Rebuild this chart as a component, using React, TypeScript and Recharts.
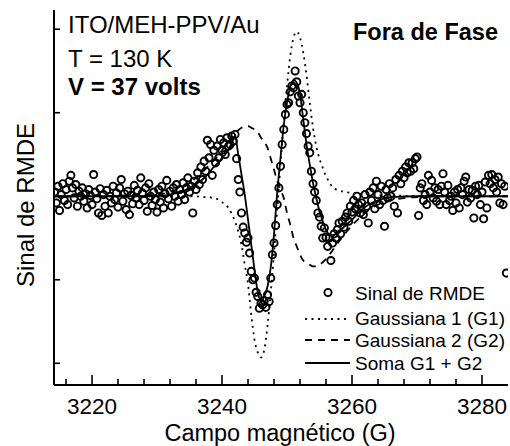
import { ComposedChart, Line, Scatter, XAxis, YAxis, Customized } from "recharts"

const FONT = "'Liberation Sans', Arial, Helvetica, sans-serif"

const X_MIN = 3214.15
const X_MAX = 3284
const Y_MIN = -2.26
const Y_MAX = 2.23

const X_TICKS = [
  3216, 3220, 3224, 3228, 3232, 3236, 3240, 3244, 3248, 3252, 3256, 3260,
  3264, 3268, 3272, 3276, 3280,
]
const Y_TICKS = [-2, -1, 0, 1, 2]

// fitted curves (field in G, signal in arbitrary units)
const FIT_FIELD = [
  3214.15, 3220, 3225, 3230, 3232, 3234, 3235, 3236, 3237, 3238, 3238.5, 3239,
  3239.5, 3240, 3240.5, 3241, 3241.5, 3242, 3242.5, 3243, 3243.5, 3244, 3244.5,
  3245, 3245.5, 3246, 3246.5, 3247, 3247.5, 3248, 3248.5, 3249, 3249.5, 3250,
  3250.5, 3251, 3251.5, 3252, 3252.5, 3253, 3253.5, 3254, 3254.5, 3255, 3255.5,
  3256, 3256.5, 3257, 3258, 3259, 3260, 3261, 3262, 3263, 3264, 3266, 3270,
  3275, 3280, 3284,
]
const G1 = [
  0, 0, 0, 0, 0, 0, 0, 0, -0.01, -0.01, -0.02, -0.03,
  -0.04, -0.07, -0.1, -0.14, -0.21, -0.3, -0.42, -0.58, -0.82, -1.05, -1.42,
  -1.72, -1.87, -1.93, -1.84, -1.55, -1.15, -0.68, -0.15, 0.38, 0.9, 1.32,
  1.68, 1.9, 1.97, 1.9, 1.72, 1.45, 1.12, 0.82, 0.6, 0.45, 0.34,
  0.24, 0.17, 0.11, 0.07, 0.05, 0.04, 0.03, 0.02, 0.02, 0.01, 0.01, 0,
  0, 0, 0,
]
const G2 = [
  0, 0, 0.01, 0.02, 0.05, 0.11, 0.16, 0.22, 0.29, 0.37, 0.41, 0.45,
  0.5, 0.55, 0.6, 0.65, 0.7, 0.75, 0.79, 0.82, 0.84, 0.84, 0.82,
  0.8, 0.77, 0.7, 0.65, 0.58, 0.45, 0.32, 0.18, 0.08, -0.02, -0.2,
  -0.34, -0.5, -0.6, -0.7, -0.77, -0.8, -0.82, -0.84, -0.84, -0.82, -0.79,
  -0.75, -0.7, -0.65, -0.54, -0.44, -0.35, -0.27, -0.2, -0.14, -0.1, -0.05, -0.01,
  0, 0, 0,
]
const SOMA = [
  0, 0, 0, 0, 0.02, 0.06, 0.1, 0.15, 0.2, 0.28, 0.33, 0.37,
  0.41, 0.46, 0.5, 0.56, 0.64, 0.72, 0.5, 0.26, 0.02, -0.28, -0.58,
  -0.88, -1.15, -1.25, -1.2, -1.08, -0.85, -0.45, 0.05, 0.46, 0.85, 1.12,
  1.31, 1.39, 1.36, 1.22, 0.92, 0.62, 0.38, 0.16, -0.02, -0.18, -0.3,
  -0.4, -0.46, -0.47, -0.42, -0.35, -0.28, -0.2, -0.13, -0.08, -0.05, -0.01, 0,
  0, 0, 0,
]

// measured signal, one value every 0.25 G starting at 3214.25 G
const SIGNAL_START = 3214.25
const SIGNAL_STEP = 0.25
const SIGNAL = [
  0.05, -0.08, 0.12, -0.17, // -> 3215
  0.02, 0.15, -0.05, 0.08,
  -0.1, 0.18, 0.25, 0.1,
  -0.02, 0.14, -0.12, 0.06,
  0.0, 0.1, -0.06, 0.03,
  -0.14, 0.08, 0.01, -0.1, // -> 3220
  0.26, 0.05, -0.03, -0.2,
  0.09, -0.23, 0.02, -0.12,
  0.07, -0.2, 0.0, -0.08,
  0.12, -0.04, 0.04, -0.13,
  0.1, 0.2, -0.06, 0.03, // -> 3225
  -0.16, 0.06, -0.22, 0.01,
  -0.09, 0.13, -0.02, 0.07,
  -0.1, 0.22, 0.04, -0.05,
  0.1, -0.18, 0.15, 0.0,
  -0.11, 0.05, -0.04, -0.19, // -> 3230
  0.08, -0.07, 0.12, -0.14,
  0.03, 0.19, -0.03, 0.06,
  -0.12, 0.1, 0.0, 0.14,
  -0.06, 0.08, 0.02, 0.16,
  -0.04, 0.1, 0.22, 0.05, // -> 3235
  0.12, -0.2, 0.18, 0.08,
  0.28, 0.14, 0.35, 0.2,
  0.42, 0.3, 0.67, 0.46,
  0.62, 0.25, 0.55, 0.4,
  0.6, 0.46, 0.68, 0.55, // -> 3240
  0.64, 0.5, 0.7, 0.6,
  0.62, 0.72, 0.66, 0.74,
  0.45, 0.2, 0.05, -0.2,
  -0.37, -0.44, -0.55, -0.5,
  -0.68, -0.9, -1.0, -0.98, // -> 3245
  -1.15, -1.2, -1.34, -1.28,
  -1.3, -1.25, -1.33, -1.18,
  -1.26, -0.98, -0.7, -0.56,
  -0.35, -0.1, 0.1, 0.36,
  0.62, 0.8, 0.98, 1.1, // -> 3250
  1.12, 1.25, 1.32, 1.3,
  1.5, 1.37, 1.2, 1.12,
  1.22, 1.0, 0.88, 0.75,
  0.6, 0.52, 0.3, 0.15,
  0.05, -0.05, -0.2, -0.25, // -> 3255
  -0.36, -0.5, -0.38, -0.49,
  -0.6, -0.5, -0.77, -0.56,
  -0.45, -0.5, -0.4, -0.32,
  -0.45, -0.3, -0.37, -0.25,
  -0.2, -0.3, -0.12, -0.19, // -> 3260
  -0.05, -0.15, 0.0, -0.1,
  -0.2, -0.08, -0.22, 0.02,
  -0.12, -0.32, 0.05, -0.05,
  0.1, -0.15, 0.18, 0.02,
  -0.1, 0.12, -0.05, -0.36, // -> 3265
  0.08, -0.02, 0.15, 0.0,
  0.1, -0.12, 0.2, -0.2,
  0.25, 0.15, 0.3, 0.22,
  0.35, 0.28, 0.4, 0.3,
  0.4, 0.33, 0.45, 0.47, // -> 3270
  -0.23, 0.1, 0.15, -0.05,
  0.02, -0.1, 0.25, 0.05,
  0.19, -0.02, 0.1, -0.06,
  0.08, -0.1, 0.12, 0.27,
  0.05, -0.1, 0.13, -0.05, // -> 3275
  0.0, -0.17, 0.05, -0.08,
  0.08, -0.14, 0.1, 0.02,
  0.18, 0.23, -0.07, 0.08,
  -0.02, 0.07, -0.26, 0.12,
  0.02, 0.13, -0.1, 0.05, // -> 3280
  -0.27, 0.17, -0.14, 0.25,
  0.15, 0.26, 0.1, 0.2,
  0.05, 0.23, -0.08, 0.15,
  -0.1, 0.12, -0.92,
]

const fitRows = FIT_FIELD.map((x, i) => ({ x, g1: G1[i], g2: G2[i], soma: SOMA[i] }))
const signalRows = SIGNAL.map((y, i) => ({ x: SIGNAL_START + i * SIGNAL_STEP, y }))

const AXIS_LINE = { stroke: "#000", strokeWidth: 2 }

function BottomTick({ x, y, payload }: any) {
  const major = payload.value % 20 === 0
  return (
    <g>
      <line x1={x} x2={x} y1={y} y2={y - (major ? 10 : 6)} stroke="#000" strokeWidth={1.6} />
      {major && (
        <text x={x} y={y + 29} textAnchor="middle" fontSize={22.5} fontFamily={FONT} fill="#000">
          {payload.value}
        </text>
      )}
    </g>
  )
}

function TopTick({ x, y }: any) {
  return <line x1={x} x2={x} y1={y} y2={y + 5} stroke="#000" strokeWidth={1.6} />
}

function LeftTick({ x, y }: any) {
  return <line x1={x} x2={x + 6} y1={y} y2={y} stroke="#000" strokeWidth={1.6} />
}

function RightTick({ x, y }: any) {
  return <line x1={x} x2={x - 5} y1={y} y2={y} stroke="#000" strokeWidth={1.6} />
}

function Ring(props: any) {
  const { cx, cy } = props
  if (cx == null || cy == null) return null
  return <circle cx={cx} cy={cy} r={3.6} fill="none" stroke="#000" strokeWidth={1.9} />
}

function Overlay() {
  return (
    <g fontFamily={FONT} fill="#000">
      <text x={68} y={33} fontSize={24}>ITO/MEH-PPV/Au</text>
      <text x={68} y={66.5} fontSize={24}>T = 130 K</text>
      <text x={68} y={95} fontSize={24} fontWeight="bold">V = 37 volts</text>
      <text x={498} y={40} fontSize={23.5} fontWeight="bold" textAnchor="end">Fora de Fase</text>

      {/* legend */}
      <circle cx={328} cy={292.5} r={3.6} fill="none" stroke="#000" strokeWidth={1.9} />
      <line x1={305} x2={350} y1={319} y2={319} stroke="#000" strokeWidth={1.8} strokeDasharray="2 4.5" />
      <line x1={305} x2={350} y1={340} y2={340} stroke="#000" strokeWidth={1.8} strokeDasharray="7 6" />
      <line x1={305} x2={350} y1={363} y2={363} stroke="#000" strokeWidth={1.8} />
      <text x={355} y={300} fontSize={19}>Sinal de RMDE</text>
      <text x={355} y={324.5} fontSize={19}>Gaussiana 1 (G1)</text>
      <text x={355} y={347} fontSize={19}>Gaussiana 2 (G2)</text>
      <text x={355} y={369.5} fontSize={19}>Soma G1 + G2</text>

      {/* axis titles */}
      <text x={280} y={441} fontSize={23.5} textAnchor="middle">Campo magnético (G)</text>
      <text transform="translate(34,205) rotate(-90)" fontSize={24} textAnchor="middle">
        Sinal de RMDE
      </text>
    </g>
  )
}

export default function App() {
  return (
    <div style={{ position: "absolute", left: 0, top: 0, width: 510, height: 446, background: "#fff" }}>
      <ComposedChart width={510} height={446} margin={{ top: 10, right: 2, bottom: 0, left: 0 }}>
        <XAxis
          xAxisId="b"
          type="number"
          dataKey="x"
          domain={[X_MIN, X_MAX]}
          ticks={X_TICKS}
          interval={0}
          allowDataOverflow
          height={61}
          tickSize={0}
          tickMargin={0}
          tickLine={false}
          tick={<BottomTick />}
          axisLine={AXIS_LINE}
        />
        <XAxis
          xAxisId="t"
          orientation="top"
          type="number"
          dataKey="x"
          domain={[X_MIN, X_MAX]}
          ticks={X_TICKS}
          interval={0}
          allowDataOverflow
          height={0}
          tickSize={0}
          tickMargin={0}
          tickLine={false}
          tick={<TopTick />}
          axisLine={AXIS_LINE}
        />
        <YAxis
          yAxisId="l"
          type="number"
          domain={[Y_MIN, Y_MAX]}
          ticks={Y_TICKS}
          interval={0}
          allowDataOverflow
          width={54}
          tickSize={0}
          tickMargin={0}
          tickLine={false}
          tick={<LeftTick />}
          axisLine={AXIS_LINE}
        />
        <YAxis
          yAxisId="r"
          orientation="right"
          type="number"
          domain={[Y_MIN, Y_MAX]}
          ticks={Y_TICKS}
          interval={0}
          allowDataOverflow
          width={0}
          tickSize={0}
          tickMargin={0}
          tickLine={false}
          tick={<RightTick />}
          axisLine={AXIS_LINE}
        />
        <Scatter
          xAxisId="b"
          yAxisId="l"
          data={signalRows}
          dataKey="y"
          shape={<Ring />}
          isAnimationActive={false}
        />
        <Line
          xAxisId="b"
          yAxisId="l"
          data={fitRows}
          dataKey="g1"
          type="monotone"
          stroke="#000"
          strokeWidth={1.8}
          strokeDasharray="2 4.5"
          dot={false}
          activeDot={false}
          isAnimationActive={false}
        />
        <Line
          xAxisId="b"
          yAxisId="l"
          data={fitRows}
          dataKey="g2"
          type="monotone"
          stroke="#000"
          strokeWidth={1.8}
          strokeDasharray="7 6"
          dot={false}
          activeDot={false}
          isAnimationActive={false}
        />
        <Line
          xAxisId="b"
          yAxisId="l"
          data={fitRows}
          dataKey="soma"
          type="monotone"
          stroke="#000"
          strokeWidth={1.8}
          dot={false}
          activeDot={false}
          isAnimationActive={false}
        />
        <Customized component={Overlay} />
      </ComposedChart>
    </div>
  )
}
